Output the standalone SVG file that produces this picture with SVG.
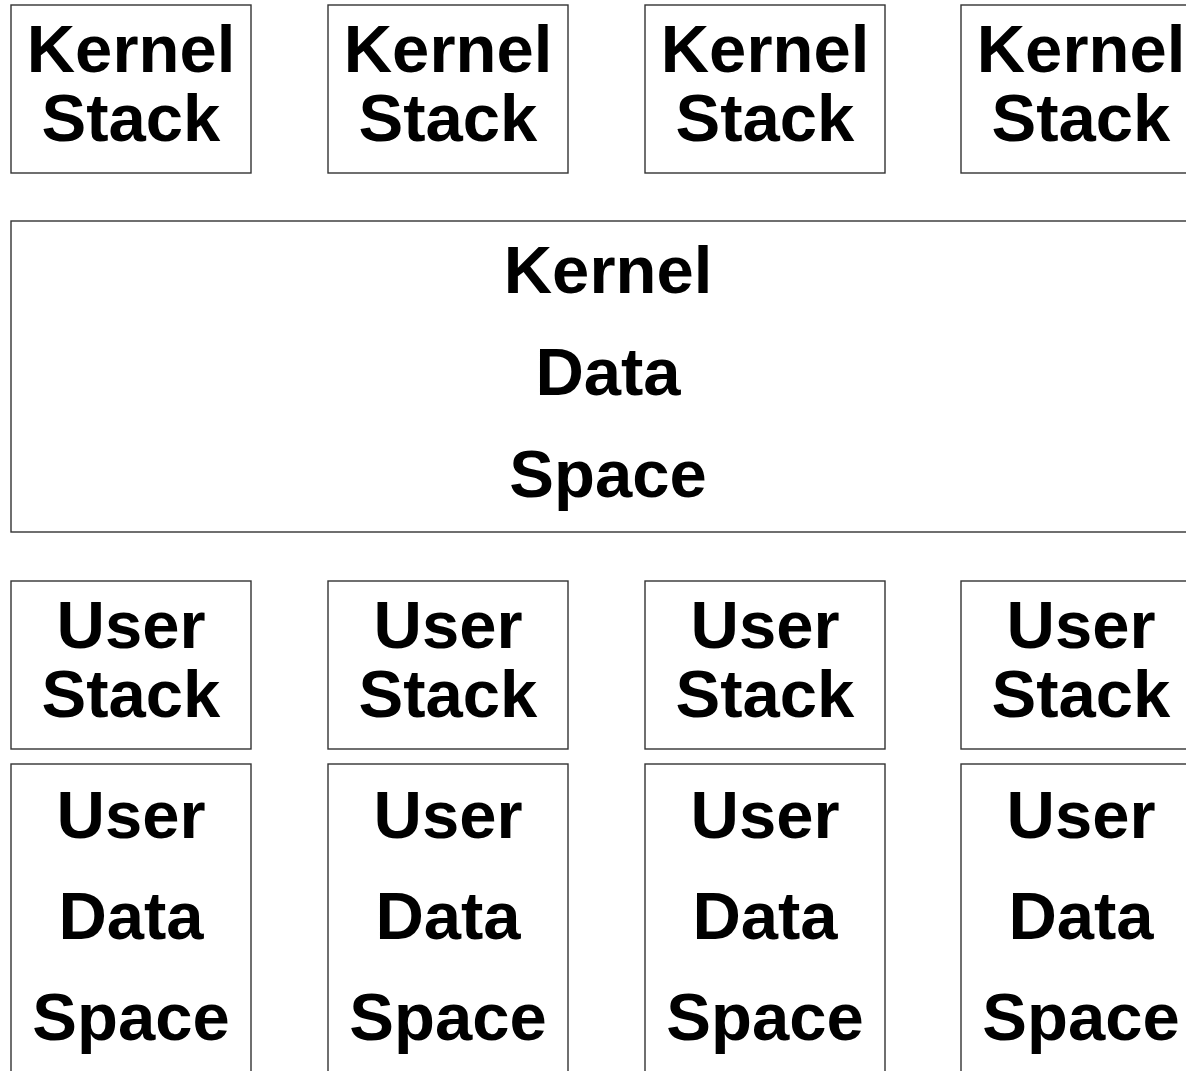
<svg xmlns="http://www.w3.org/2000/svg" width="1186" height="1071" viewBox="0 0 1186 1071">
<style>
.box{fill:#fff;stroke:#333;stroke-width:1.4}
.t{font-family:"Liberation Sans",Arial,sans-serif;font-weight:bold;font-size:67px;fill:#000;text-anchor:middle}
</style>
<rect width="1186" height="1071" fill="#fff"/>
<g id="kstack1"><rect class="box" x="11" y="5" width="240" height="168"/><text class="t" x="131" y="72">Kernel</text><text class="t" x="131" y="141">Stack</text></g>
<g id="kstack2"><rect class="box" x="328" y="5" width="240" height="168"/><text class="t" x="448" y="72">Kernel</text><text class="t" x="448" y="141">Stack</text></g>
<g id="kstack3"><rect class="box" x="645" y="5" width="240" height="168"/><text class="t" x="765" y="72">Kernel</text><text class="t" x="765" y="141">Stack</text></g>
<g id="kstack4"><rect class="box" x="961" y="5" width="240" height="168"/><text class="t" x="1081" y="72">Kernel</text><text class="t" x="1081" y="141">Stack</text></g>
<g id="kdata"><rect class="box" x="11" y="221" width="1200" height="311"/><text class="t" x="608" y="293">Kernel</text><text class="t" x="608" y="395">Data</text><text class="t" x="608" y="497">Space</text></g>
<g id="ustack1"><rect class="box" x="11" y="581" width="240" height="168"/><text class="t" x="131" y="648">User</text><text class="t" x="131" y="717">Stack</text></g>
<g id="ustack2"><rect class="box" x="328" y="581" width="240" height="168"/><text class="t" x="448" y="648">User</text><text class="t" x="448" y="717">Stack</text></g>
<g id="ustack3"><rect class="box" x="645" y="581" width="240" height="168"/><text class="t" x="765" y="648">User</text><text class="t" x="765" y="717">Stack</text></g>
<g id="ustack4"><rect class="box" x="961" y="581" width="240" height="168"/><text class="t" x="1081" y="648">User</text><text class="t" x="1081" y="717">Stack</text></g>
<g id="udata1"><rect class="box" x="11" y="764" width="240" height="330"/><text class="t" x="131" y="838">User</text><text class="t" x="131" y="939">Data</text><text class="t" x="131" y="1040">Space</text></g>
<g id="udata2"><rect class="box" x="328" y="764" width="240" height="330"/><text class="t" x="448" y="838">User</text><text class="t" x="448" y="939">Data</text><text class="t" x="448" y="1040">Space</text></g>
<g id="udata3"><rect class="box" x="645" y="764" width="240" height="330"/><text class="t" x="765" y="838">User</text><text class="t" x="765" y="939">Data</text><text class="t" x="765" y="1040">Space</text></g>
<g id="udata4"><rect class="box" x="961" y="764" width="240" height="330"/><text class="t" x="1081" y="838">User</text><text class="t" x="1081" y="939">Data</text><text class="t" x="1081" y="1040">Space</text></g>
<g id="connectors"/>
</svg>
